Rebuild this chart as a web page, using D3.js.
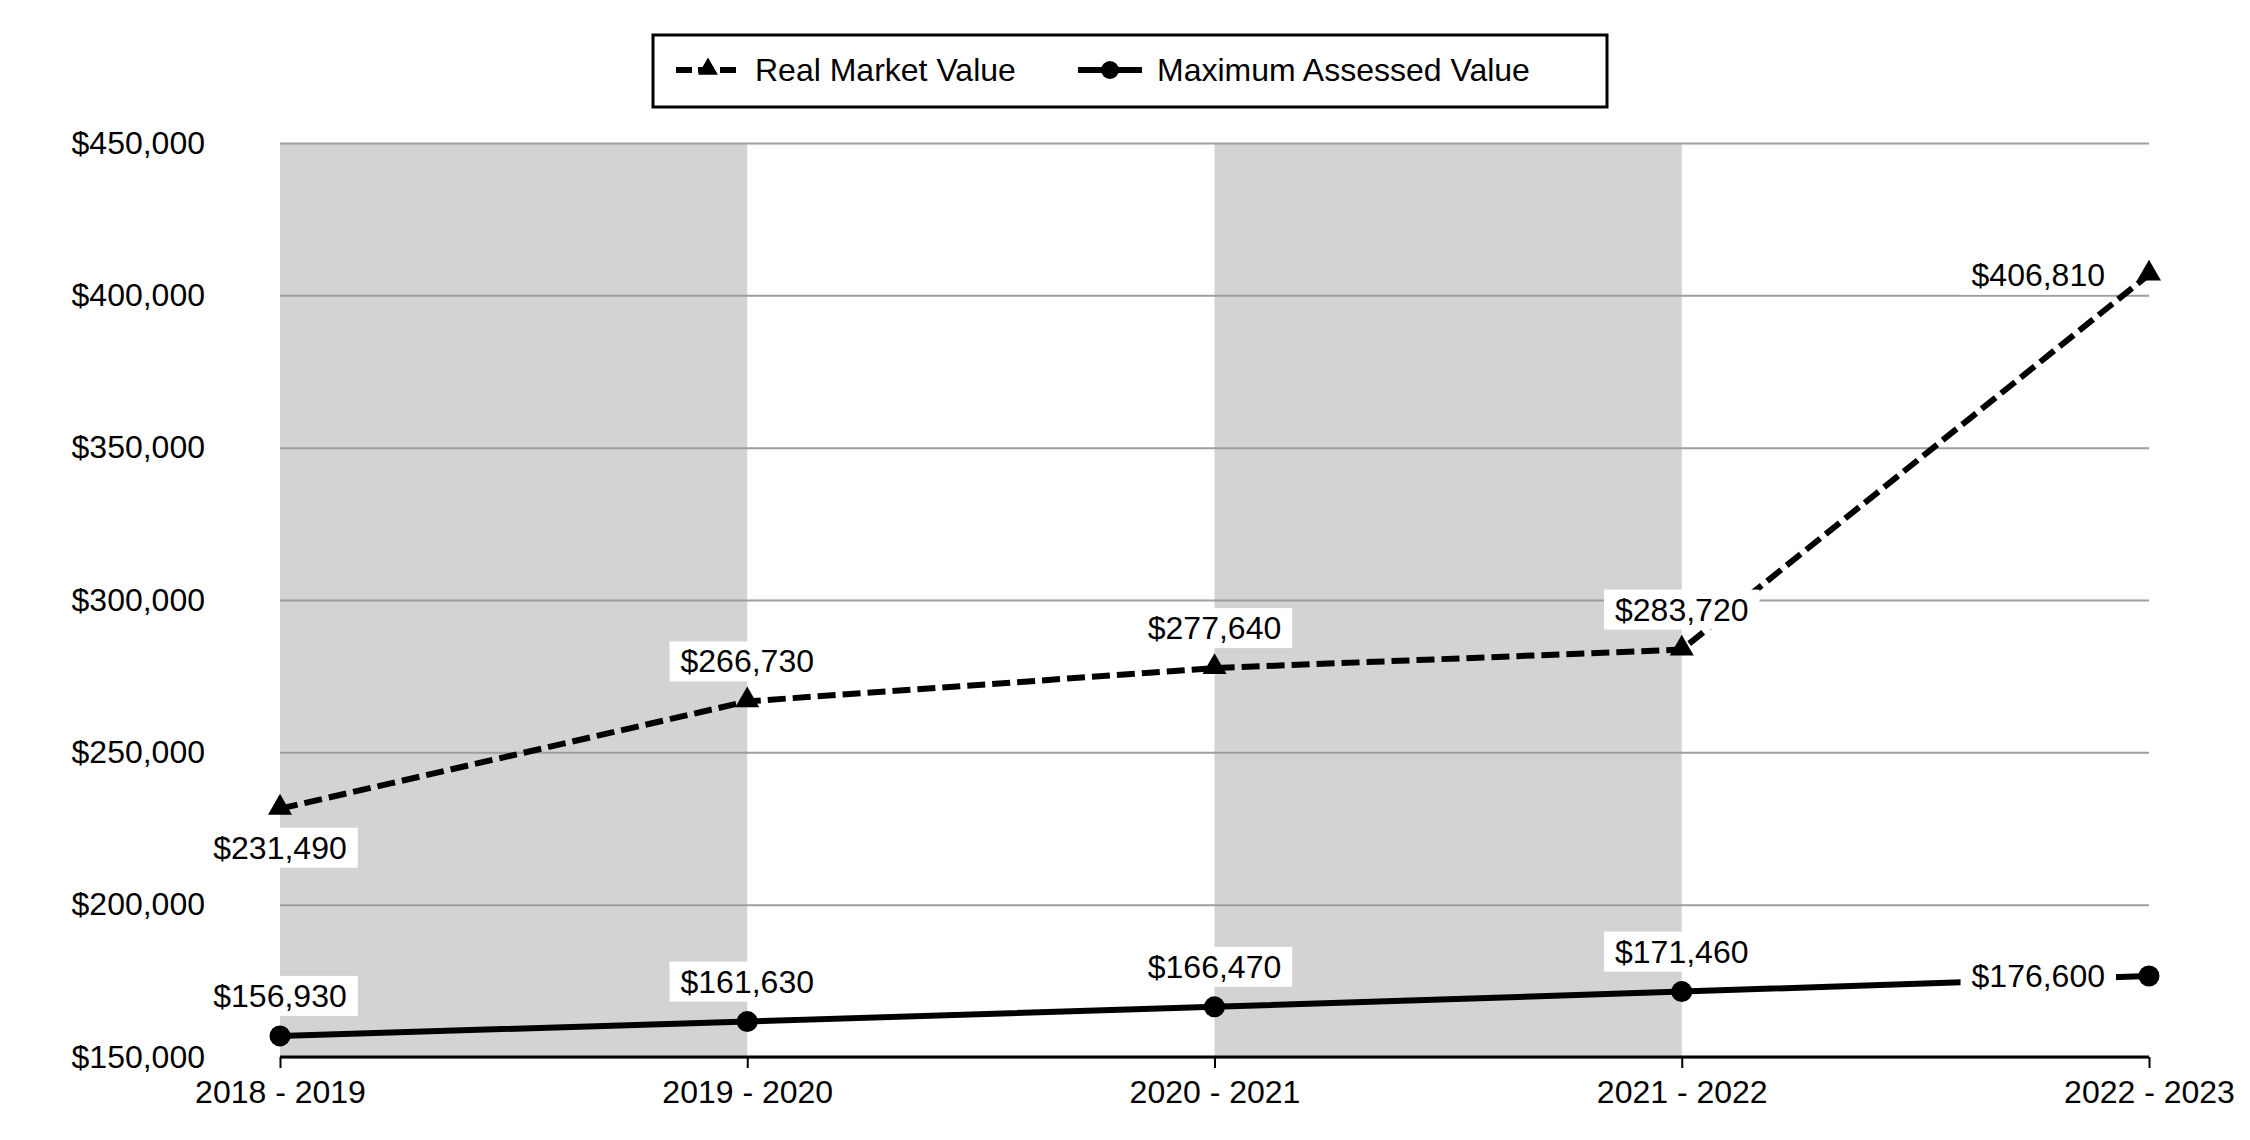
<!DOCTYPE html>
<html>
<head>
<meta charset="utf-8">
<script src="https://cdn.jsdelivr.net/npm/d3@7"></script>
<style>
  body { margin: 0; background: #fff; }
  text { font-family: "Liberation Sans", Arial, sans-serif; }
</style>
</head>
<body>
<svg id="chart" width="2250" height="1140"></svg>
<script>
const years = ["2018 - 2019", "2019 - 2020", "2020 - 2021", "2021 - 2022", "2022 - 2023"]
const realMarket = [231490, 266730, 277640, 283720, 406810]
const maxAssessed = [156930, 161630, 166470, 171460, 176600]
const yTicks = [150000, 200000, 250000, 300000, 350000, 400000, 450000]
const shadedSpans = [["2018 - 2019", "2019 - 2020"], ["2020 - 2021", "2021 - 2022"]]

const width = 2250, height = 1140
const margin = {top: 143, right: 101, bottom: 83, left: 280}
const fontSize = 32

const svg = d3.select("#chart")

const x = d3.scalePoint()
  .domain(years)
  .range([margin.left, width - margin.right])
  .padding(0)

const y = d3.scaleLinear()
  .domain([150000, 450000])
  .range([height - margin.bottom, margin.top])

const money = d => "$" + d3.format(",")(d)

// ===== background bands =====
svg.append("g")
  .selectAll("rect")
  .data(shadedSpans)
  .join("rect")
    .attr("x", d => x(d[0]))
    .attr("width", d => x(d[1]) - x(d[0]))
    .attr("y", y(450000))
    .attr("height", y(150000) - y(450000))
    .attr("fill", "#d3d3d3")

// ===== gridlines + y labels =====
const yAxis = svg.append("g")
  .attr("transform", `translate(${margin.left},0)`)
  .call(d3.axisLeft(y).tickValues(yTicks).tickFormat(money)
    .tickSize(-(width - margin.right - margin.left)).tickPadding(75))
yAxis.select(".domain").remove()
yAxis.selectAll(".tick line").attr("stroke", "#9e9e9e").attr("stroke-width", 2)
yAxis.selectAll(".tick text")
  .attr("font-size", fontSize)
  .attr("fill", "#000")
  .style("font-family", "'Liberation Sans', Arial, sans-serif")

// ===== x axis =====
const xAxis = svg.append("g")
  .attr("transform", `translate(0,${y(150000)})`)
  .call(d3.axisBottom(x).tickSize(11).tickPadding(12))
xAxis.select(".domain").attr("stroke", "#000").attr("stroke-width", 3)
  .attr("d", `M${margin.left},0H${width - margin.right}`)
xAxis.selectAll(".tick line").attr("stroke", "#000").attr("stroke-width", 2)
xAxis.selectAll(".tick text")
  .attr("font-size", fontSize)
  .attr("fill", "#000")
  .style("font-family", "'Liberation Sans', Arial, sans-serif")

// ===== lines =====
const line = d3.line().x((d, i) => x(years[i])).y(d => y(d))

svg.append("path")
  .datum(realMarket)
  .attr("d", line)
  .attr("fill", "none")
  .attr("stroke", "#000")
  .attr("stroke-width", 6)
  .attr("stroke-dasharray", "18,7")

svg.append("path")
  .datum(maxAssessed)
  .attr("d", line)
  .attr("fill", "none")
  .attr("stroke", "#000")
  .attr("stroke-width", 6)

const tri = d3.symbol().type(d3.symbolTriangle).size(250)

svg.append("g")
  .selectAll("path")
  .data(realMarket)
  .join("path")
    .attr("transform", (d, i) => `translate(${x(years[i])},${y(d) - 1})`)
    .attr("d", tri)
    .attr("fill", "#000")

svg.append("g")
  .selectAll("circle")
  .data(maxAssessed)
  .join("circle")
    .attr("cx", (d, i) => x(years[i]))
    .attr("cy", d => y(d))
    .attr("r", 10.5)
    .attr("fill", "#000")

// ===== data labels =====
function addLabels(values, placeOf) {
  const g = svg.append("g")
  values.forEach((v, i) => {
    const p = placeOf(i)
    let cx = x(years[i]), cy = y(v)
    let anchor = "middle"
    if (p === "below") cy += 39
    else if (p === "above") cy -= 40
    else if (p === "left") { cx -= 44; anchor = "end" }
    const lg = g.append("g")
    const rect = lg.append("rect").attr("fill", "#fff")
    const t = lg.append("text")
      .attr("x", cx).attr("y", cy)
      .attr("text-anchor", anchor)
      .attr("dominant-baseline", "central")
      .attr("font-size", fontSize)
      .attr("fill", "#000")
      .text(money(v))
    const bb = t.node().getBBox()
    rect.attr("x", bb.x - 11).attr("width", bb.width + 22)
      .attr("y", cy - 20).attr("height", 40)
  })
}

addLabels(realMarket, i => i === 0 ? "below" : (i === years.length - 1 ? "left" : "above"))
addLabels(maxAssessed, i => i === years.length - 1 ? "left" : "above")

// ===== legend =====
const legend = svg.append("g")
legend.append("rect")
  .attr("x", 653).attr("y", 35).attr("width", 954).attr("height", 72)
  .attr("fill", "#fff").attr("stroke", "#000").attr("stroke-width", 3)

const legendY = 70
const items = [
  {name: "Real Market Value", x0: 676, dash: "16,6,16,6,16", marker: "tri"},
  {name: "Maximum Assessed Value", x0: 1078, dash: null, marker: "circle"}
]
items.forEach(it => {
  legend.append("line")
    .attr("x1", it.x0).attr("x2", it.x0 + 64)
    .attr("y1", legendY).attr("y2", legendY)
    .attr("stroke", "#000").attr("stroke-width", 6)
    .attr("stroke-dasharray", it.dash)
  if (it.marker === "tri") {
    legend.append("path")
      .attr("transform", `translate(${it.x0 + 32},${legendY - 1})`)
      .attr("d", d3.symbol().type(d3.symbolTriangle).size(170))
      .attr("fill", "#000")
  } else {
    legend.append("circle")
      .attr("cx", it.x0 + 32).attr("cy", legendY).attr("r", 9).attr("fill", "#000")
  }
  legend.append("text")
    .attr("x", it.x0 + 79).attr("y", legendY)
    .attr("dominant-baseline", "central")
    .attr("font-size", fontSize)
    .attr("fill", "#000")
    .text(it.name)
})
</script>
</body>
</html>
